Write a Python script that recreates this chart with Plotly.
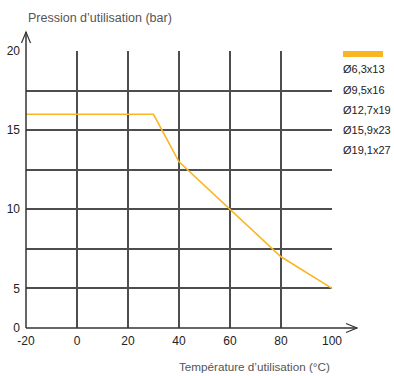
import plotly.graph_objects as go

# Data
temperature = [-20, 30, 40, 60, 80, 100]
pressure = [16, 16, 13, 10, 7, 5]
x_ticks = [-20, 0, 20, 40, 60, 80, 100]
x_labels = ["-20", "0", "20", "40", "60", "80", "100"]
y_ticks = [2.5, 5, 7.5, 10, 12.5, 15, 17.5, 20]
y_labels = ["0", "5", "", "10", "", "15", "", "20"]
series_names = ["Ø6,3x13", "Ø9,5x16", "Ø12,7x19", "Ø15,9x23", "Ø19,1x27"]
x_title = "Température d’utilisation (°C)"
y_title = "Pression d’utilisation (bar)"

FONT = "Liberation Sans Narrow, Arial Narrow, Liberation Sans, Arial, sans-serif"
ORANGE = "#F9B622"
GRID = "#4d4d4d"

W, H = 394, 376
ML, MR, MT, MB = 26, 62, 51, 48

fig = go.Figure()
fig.add_trace(go.Scatter(x=temperature, y=pressure, mode="lines",
                         line=dict(color=ORANGE, width=1.6), showlegend=False,
                         name=series_names[0]))

fig.update_layout(
    width=W, height=H,
    margin=dict(l=ML, r=MR, t=MT, b=MB, autoexpand=False),
    paper_bgcolor="white", plot_bgcolor="white",
    font=dict(family=FONT, size=12, color="#222"),
    showlegend=False,
    xaxis=dict(range=[-20, 100], tickvals=x_ticks, ticktext=x_labels, showgrid=True,
               gridcolor=GRID, gridwidth=1.5, zeroline=False, automargin=False,
               showline=False, ticks="", ticklabelstandoff=4,
               tickfont=dict(size=12, family=FONT, color="#222")),
    yaxis=dict(range=[2.5, 20], tickvals=y_ticks, ticktext=y_labels,
               showgrid=True, gridcolor=GRID, gridwidth=1.5, zeroline=False, automargin=False,
               showline=False, ticks="", ticklabelstandoff=5,
               tickfont=dict(size=12, family=FONT, color="#222")),
)

# axis lines with open arrowheads (paper coordinates)
pw, ph = W - ML - MR, H - MT - MB
def px(x):
    return (x - ML) / pw
def py(y):
    return (H - MB - y) / ph

line = dict(color="#333", width=1.5)
fig.add_shape(type="line", xref="paper", yref="paper", x0=px(26), y0=py(328), x1=px(357), y1=py(328), line=line)
fig.add_shape(type="line", xref="paper", yref="paper", x0=px(26), y0=py(328), x1=px(26), y1=py(32), line=line)
fig.add_shape(type="path", xref="paper", yref="paper",
              path=f"M {px(346)},{py(323.5)} L {px(357)},{py(328)} L {px(346)},{py(332.5)}",
              line=dict(color="#333", width=1.2))
fig.add_shape(type="path", xref="paper", yref="paper",
              path=f"M {px(21.5)},{py(43)} L {px(26)},{py(32)} L {px(30.5)},{py(43)}",
              line=dict(color="#333", width=1.2))

# legend
fig.add_shape(type="rect", xref="paper", yref="paper", x0=px(343), x1=px(383),
              y0=py(57), y1=py(51), fillcolor=ORANGE, line=dict(width=0))
for i, name in enumerate(series_names):
    fig.add_annotation(xref="paper", yref="paper", x=px(341), y=py(69.5 + 20 * i),
                       text=name, showarrow=False, xanchor="left", yanchor="middle",
                       font=dict(size=11, family=FONT, color="#222"))

# axis titles
fig.add_annotation(xref="paper", yref="paper", x=px(26), y=py(18), text=y_title,
                   showarrow=False, xanchor="left", yanchor="middle",
                   font=dict(size=12.5, family=FONT, color="#555"))
fig.add_annotation(xref="paper", yref="paper", x=px(332), y=py(366), text=x_title,
                   showarrow=False, xanchor="right", yanchor="middle",
                   font=dict(size=11.7, family=FONT, color="#555"))

fig.write_html("out.html", config={"displayModeBar": False},
               post_script="document.body.style.margin='0px';")
